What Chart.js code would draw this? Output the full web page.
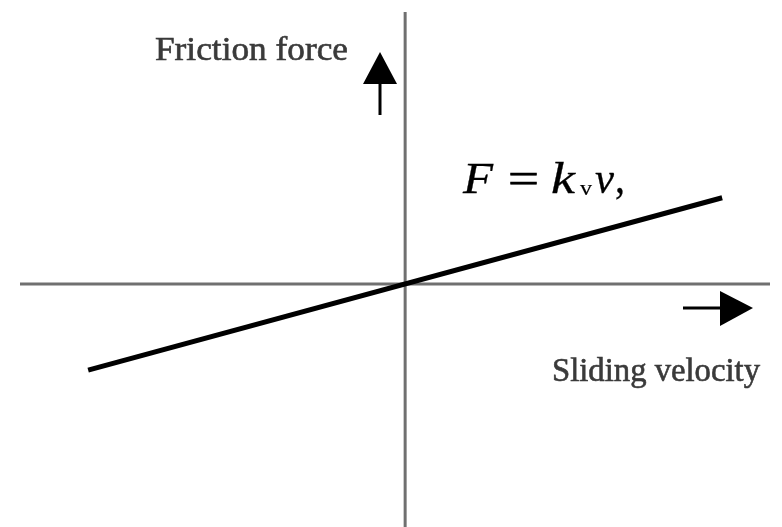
<!DOCTYPE html>
<html>
<head>
<meta charset="utf-8">
<script src="https://cdn.jsdelivr.net/npm/chart.js@4"></script>
<style>
html,body{margin:0;padding:0;background:#fff;}
#wrap{width:782px;height:527px;}
</style>
</head>
<body>
<div id="wrap"><canvas id="c" width="782" height="527"></canvas></div>
<script>
// Data
const velocity = [-10, 10];          // sliding velocity v
const friction = [-2.72, 2.72];      // friction force F = k_v v
const xRange = [-12.15, 11.51];
const yRange = [-7.67, 8.58];
const yLabel = "Friction force";
const xLabel = "Sliding velocity";

const points = velocity.map((v, i) => ({x: v, y: friction[i]}));

function drawFit(ctx, text, font, x, y, width, color, weight) {
  ctx.save();
  ctx.font = font;
  const w = ctx.measureText(text).width;
  ctx.translate(x, y);
  ctx.scale(width / w, 1);
  ctx.fillStyle = color;
  ctx.fillText(text, 0, 0);
  if (weight) {
    ctx.strokeStyle = color;
    ctx.lineWidth = weight;
    ctx.strokeText(text, 0, 0);
  }
  ctx.restore();
}

const decor = {
  id: 'decor',
  beforeDatasetsDraw(chart) {
    const {ctx, chartArea, scales} = chart;
    const x0 = scales.x.getPixelForValue(0);
    const y0 = scales.y.getPixelForValue(0);
    ctx.save();
    ctx.strokeStyle = '#707070';
    ctx.lineWidth = 3;
    ctx.beginPath();
    ctx.moveTo(chartArea.left, y0);
    ctx.lineTo(chartArea.right, y0);
    ctx.moveTo(x0, chartArea.top);
    ctx.lineTo(x0, chartArea.bottom);
    ctx.stroke();
    ctx.restore();
  },
  afterDatasetsDraw(chart) {
    const {ctx} = chart;
    ctx.save();
    // up arrow
    ctx.strokeStyle = '#000';
    ctx.fillStyle = '#000';
    ctx.lineWidth = 3;
    ctx.beginPath();
    ctx.moveTo(380, 115); ctx.lineTo(380, 82);
    ctx.stroke();
    ctx.beginPath();
    ctx.moveTo(380, 52); ctx.lineTo(397, 84); ctx.lineTo(363, 84); ctx.closePath();
    ctx.fill();
    // right arrow
    ctx.beginPath();
    ctx.moveTo(683, 308); ctx.lineTo(722, 308);
    ctx.stroke();
    ctx.beginPath();
    ctx.moveTo(753, 308); ctx.lineTo(720, 291); ctx.lineTo(720, 326); ctx.closePath();
    ctx.fill();
    ctx.restore();
    // labels
    drawFit(ctx, yLabel, '33px "Liberation Serif"', 155, 60, 193, '#3a3a3a', 0.6);
    drawFit(ctx, xLabel, '33px "Liberation Serif"', 552, 381, 208, '#3a3a3a', 0.6);
    // formula F = k_v v,
    const it = 'italic 44px "Liberation Serif"';
    drawFit(ctx, 'F', it, 463, 193, 30, '#000', 0.3);
    drawFit(ctx, '=', '44px "Liberation Serif"', 508, 193, 31, '#000', 0.7);
    drawFit(ctx, 'k', it, 551, 193, 24, '#000', 0.3);
    drawFit(ctx, 'v', '22px "Liberation Serif"', 580, 195, 12, '#000', 0.2);
    drawFit(ctx, 'v', it, 595, 193, 19, '#000', 0.3);
    drawFit(ctx, ',', '44px "Liberation Serif"', 615, 193, 10, '#000', 0.3);
  }
};

new Chart(document.getElementById('c'), {
  type: 'line',
  data: {
    datasets: [{
      data: points,
      borderColor: '#000',
      borderWidth: 5,
      pointRadius: 0,
      tension: 0,
      fill: false
    }]
  },
  options: {
    responsive: false,
    animation: false,
    events: [],
    layout: {padding: {left: 20, right: 12, top: 12, bottom: 0}},
    plugins: {legend: {display: false}, tooltip: {enabled: false}},
    scales: {
      x: {type: 'linear', min: xRange[0], max: xRange[1], display: false},
      y: {type: 'linear', min: yRange[0], max: yRange[1], display: false}
    }
  },
  plugins: [decor]
});
</script>
</body>
</html>
